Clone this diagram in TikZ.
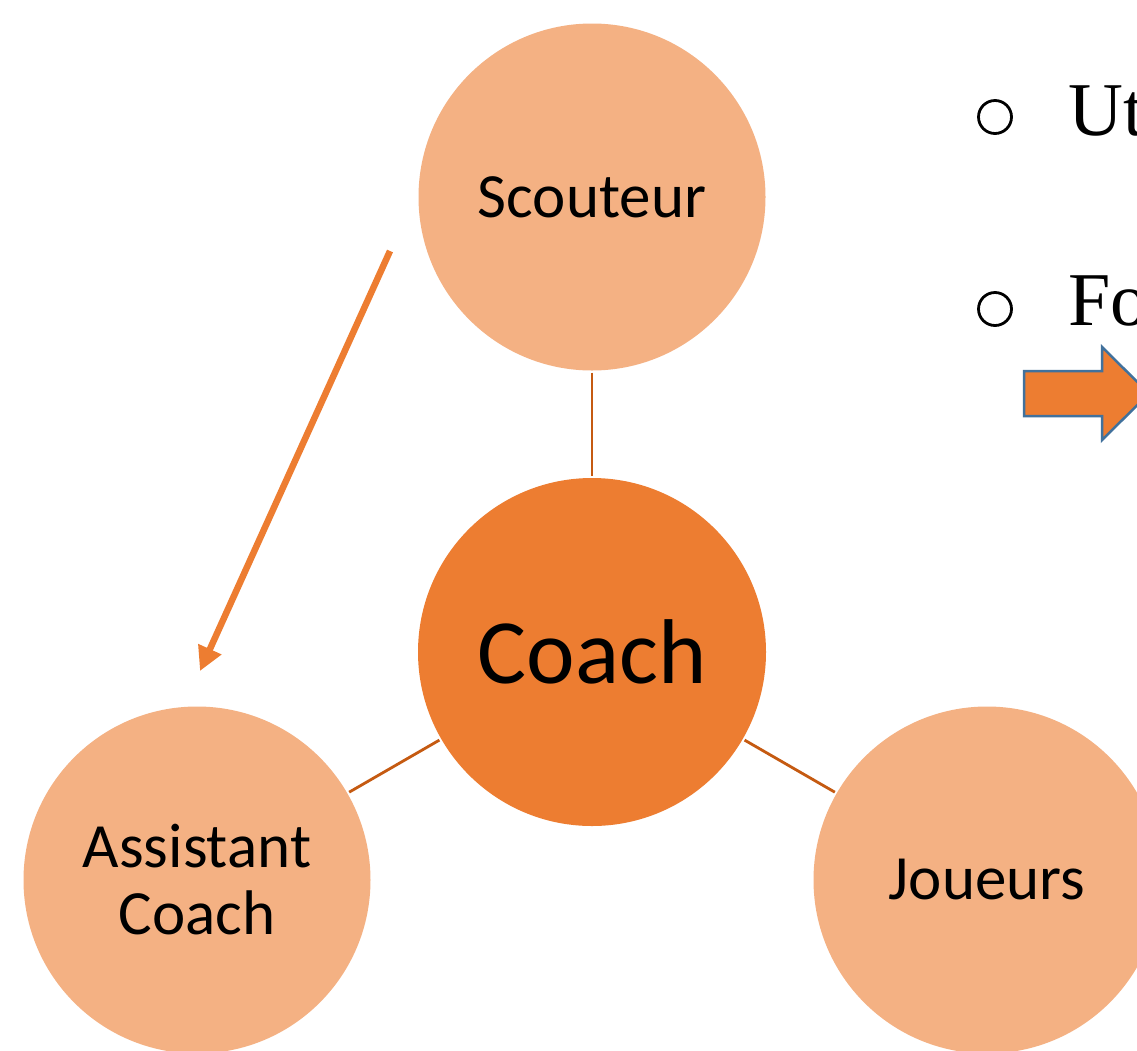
\documentclass[tikz,border=0pt]{standalone}
\usepackage{fontspec}
\setmainfont{Liberation Serif}
\newfontfamily\calib{Carlito}
\usetikzlibrary{arrows.meta}
\definecolor{lightor}{HTML}{F4B183}
\definecolor{mainor}{HTML}{ED7D31}
\definecolor{linkor}{HTML}{C55A11}
\definecolor{edgeblue}{HTML}{41719C}
\tikzset{
  role/.style={circle, fill=lightor, minimum size=347pt, inner sep=0pt, align=center, font=\calib\fontsize{63}{67}\selectfont},
  hub/.style={circle, fill=mainor, minimum size=348pt, inner sep=0pt, font=\calib\fontsize{92}{96}\selectfont},
  link/.style={draw=linkor, line width=2.8pt, shorten <=2pt, shorten >=2pt},
  flowarrow/.style={draw=mainor, line width=6.5pt, -{Triangle[length=24pt,width=24pt]}},
  bullettext/.style={anchor=base west, inner sep=0pt, font=\fontsize{76}{80}\selectfont},
  bulletmark/.style={circle, draw=black, line width=2.8pt, minimum size=33pt, inner sep=0pt},
  blockarrow/.style={fill=mainor, draw=edgeblue, line width=2.5pt, line join=miter}
}
\begin{document}
\begin{tikzpicture}[x=1pt,y=-1pt]
\useasboundingbox (0,0) rectangle (1137,1050);
\clip (0,0) rectangle (1137,1050);
\fill[white] (0,0) rectangle (1137,1050);
% circles
\node[role] (sc) at (592,197) {Scouteur};
\node[hub] (co) at (592,652) {Coach};
\node[role] (as) at (197,880) {Assistant\\Coach};
\node[role] (jo) at (987,880) {Joueurs};
% connectors
\draw[link] (sc) -- (co);
\draw[link] (co) -- (as);
\draw[link] (co) -- (jo);
% orange arrow
\coordinate (fa) at (390,251);
\coordinate (fb) at (200,671);
\draw[flowarrow] (fa) -- (fb);
% bullet list (cut at the right edge, as in the reference)
\node[bulletmark] (b1) at (995,117) {};
\node[bullettext] (t1) at (1068,135) {Ut};
\node[bulletmark] (b2) at (995,309) {};
\node[bullettext] (t2) at (1068,325) {Fo};
% block arrow
\draw[blockarrow] (1024,371) -- (1102,371) -- (1102,347) -- (1149,393.5) -- (1102,440) -- (1102,416) -- (1024,416) -- cycle;
\end{tikzpicture}
\end{document}
